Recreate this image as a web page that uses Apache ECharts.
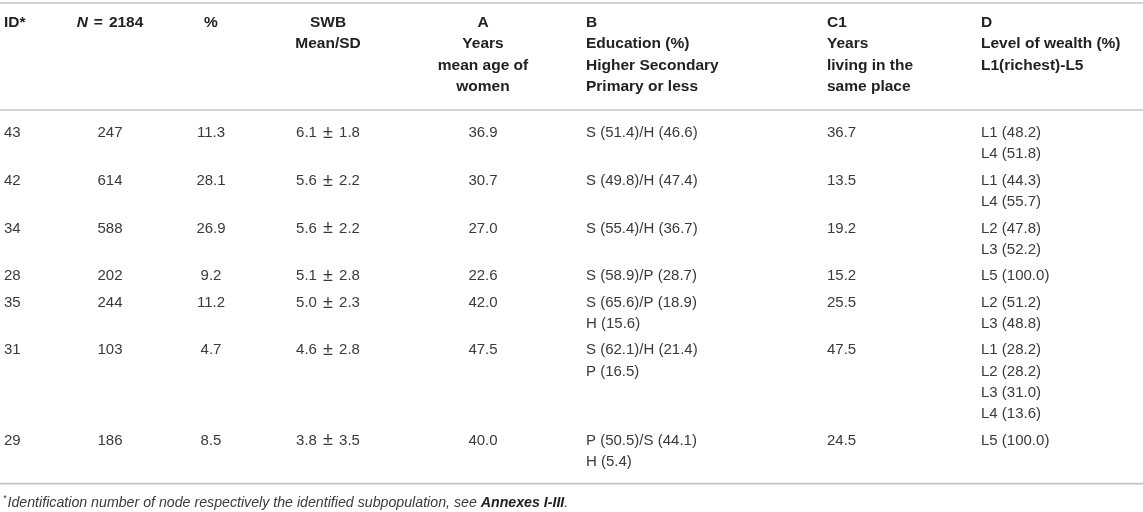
<!DOCTYPE html>
<html>
<head>
<meta charset="utf-8">
<script src="https://cdn.jsdelivr.net/npm/echarts@6/dist/echarts.min.js"></script>
<style>
html,body{margin:0;padding:0;background:#fff;}
#chart{width:1143px;height:512px;}
</style>
</head>
<body>
<div id="chart"></div>
<script>
// ---------- data ----------
const headers = [
  ['ID*'],
  ['{i|N}{e|=}2184'],
  ['%'],
  ['SWB', 'Mean/SD'],
  ['A', 'Years', 'mean age of', 'women'],
  ['B', 'Education (%)', 'Higher Secondary', 'Primary or less'],
  ['C1', 'Years', 'living in the', 'same place'],
  ['D', 'Level of wealth (%)', 'L1(richest)-L5']
];
const ids      = ['43', '42', '34', '28', '35', '31', '29'];
const nValues  = [247, 614, 588, 202, 244, 103, 186];
const percents = ['11.3', '28.1', '26.9', '9.2', '11.2', '4.7', '8.5'];
const swbMean  = ['6.1', '5.6', '5.6', '5.1', '5.0', '4.6', '3.8'];
const swbSD    = ['1.8', '2.2', '2.2', '2.8', '2.3', '2.8', '3.5'];
const ageA     = ['36.9', '30.7', '27.0', '22.6', '42.0', '47.5', '40.0'];
const educationB = [
  ['S (51.4)/H (46.6)'],
  ['S (49.8)/H (47.4)'],
  ['S (55.4)/H (36.7)'],
  ['S (58.9)/P (28.7)'],
  ['S (65.6)/P (18.9)', 'H (15.6)'],
  ['S (62.1)/H (21.4)', 'P (16.5)'],
  ['P (50.5)/S (44.1)', 'H (5.4)']
];
const yearsC1 = ['36.7', '13.5', '19.2', '15.2', '25.5', '47.5', '24.5'];
const wealthD = [
  ['L1 (48.2)', 'L4 (51.8)'],
  ['L1 (44.3)', 'L4 (55.7)'],
  ['L2 (47.8)', 'L3 (52.2)'],
  ['L5 (100.0)'],
  ['L2 (51.2)', 'L3 (48.8)'],
  ['L1 (28.2)', 'L2 (28.2)', 'L3 (31.0)', 'L4 (13.6)'],
  ['L5 (100.0)']
];
const footnote = ['*', 'Identification number of node respectively the identified subpopulation, see ', 'Annexes I-III', '.'];

// ---------- layout / style ----------
const W = 1143, H = 512;
const colX     = [4, 110, 211, 328, 483, 586, 827, 981];
const colAlign = ['left', 'center', 'center', 'center', 'center', 'left', 'left', 'left'];
const LINE_H = 21.2, ROW_GAP = 5.3, HEADER_Y0 = 23, BODY_Y0 = 133;
const TOP_RULE = 3;
const FONT = '"Liberation Sans", Arial, Helvetica, sans-serif';
const BODY_COLOR = '#3a3a3a', HEAD_COLOR = '#222', RULE_COLOR = '#c4c4c4';
const RICH = {
  i: {fontStyle: 'italic', fontWeight: 'bold', fontSize: 15.5, fontFamily: FONT, fill: HEAD_COLOR},
  e: {fontWeight: 'bold', fontSize: 15.5, fontFamily: FONT, fill: HEAD_COLOR, padding: [0, 6, 0, 6]},
  p: {fontSize: 18, fontFamily: FONT, fill: BODY_COLOR, verticalAlign: 'middle', padding: [0, 2, 0, 2]}
};

// ---------- build text items ----------
const items = [];
headers.forEach((lines, c) => {
  lines.forEach((t, k) => items.push({x: colX[c], y: HEADER_Y0 + k * LINE_H, text: t, align: colAlign[c], bold: true}));
});
let y = BODY_Y0, lastLine = BODY_Y0;
ids.forEach((id, r) => {
  const cells = [
    [id], [String(nValues[r])], [percents[r]], [swbMean[r] + ' {p|\u00b1} ' + swbSD[r]],
    [ageA[r]], educationB[r], [yearsC1[r]], wealthD[r]
  ];
  let n = 1;
  cells.forEach((lines, c) => {
    lines.forEach((t, k) => items.push({x: colX[c], y: y + k * LINE_H, text: t, align: colAlign[c], bold: false}));
    n = Math.max(n, lines.length);
  });
  lastLine = y + (n - 1) * LINE_H;
  y += n * LINE_H + ROW_GAP;
});
const HEAD_RULE = BODY_Y0 - 23;
const BOTTOM_RULE = lastLine + 22;
const FOOT_Y = BOTTOM_RULE + 19;

const chart = echarts.init(document.getElementById('chart'), null, {renderer: 'canvas'});
chart.setOption({
  animation: false,
  backgroundColor: '#fff',
  grid: {left: 0, right: 0, top: 0, bottom: 0},
  xAxis: {type: 'value', min: 0, max: W, show: false},
  yAxis: {type: 'value', min: 0, max: H, inverse: true, show: false},
  series: [
    {
      type: 'custom',
      silent: true,
      data: [TOP_RULE, HEAD_RULE, BOTTOM_RULE].map(v => [0, v]),
      renderItem: function (params, api) {
        const a = api.coord([0, api.value(1)]);
        const b = api.coord([W, api.value(1)]);
        return {type: 'line', shape: {x1: a[0], y1: a[1], x2: b[0], y2: b[1]}, style: {stroke: RULE_COLOR, lineWidth: 1.6}};
      }
    },
    {
      type: 'custom',
      silent: true,
      data: items.map(it => [it.x, it.y]),
      renderItem: function (params, api) {
        const it = items[params.dataIndex];
        const p = api.coord([api.value(0), api.value(1)]);
        return {
          type: 'text',
          x: p[0], y: p[1],
          style: {
            text: it.text,
            fill: it.bold ? HEAD_COLOR : BODY_COLOR,
            fontFamily: FONT,
            fontSize: it.bold ? 15.5 : 15,
            fontWeight: it.bold ? 'bold' : 'normal',
            align: it.align,
            verticalAlign: 'middle',
            rich: RICH
          }
        };
      }
    },
    {
      type: 'custom',
      silent: true,
      data: [[3, FOOT_Y]],
      renderItem: function (params, api) {
        const p = api.coord([api.value(0), api.value(1)]);
        return {
          type: 'text', x: p[0], y: p[1],
          style: {
            text: '{s|' + footnote[0] + '}{t|' + footnote[1] + '}{b|' + footnote[2] + '}{t|' + footnote[3] + '}',
            align: 'left', verticalAlign: 'middle',
            rich: {
              s: {fontSize: 9, fontFamily: FONT, fontStyle: 'italic', fill: BODY_COLOR, verticalAlign: 'top', padding: [0, 1, 8, 0]},
              t: {fontSize: 14.2, fontFamily: FONT, fontStyle: 'italic', fill: BODY_COLOR},
              b: {fontSize: 14.2, fontFamily: FONT, fontStyle: 'italic', fontWeight: 'bold', fill: HEAD_COLOR}
            }
          }
        };
      }
    }
  ]
});
</script>
</body>
</html>
